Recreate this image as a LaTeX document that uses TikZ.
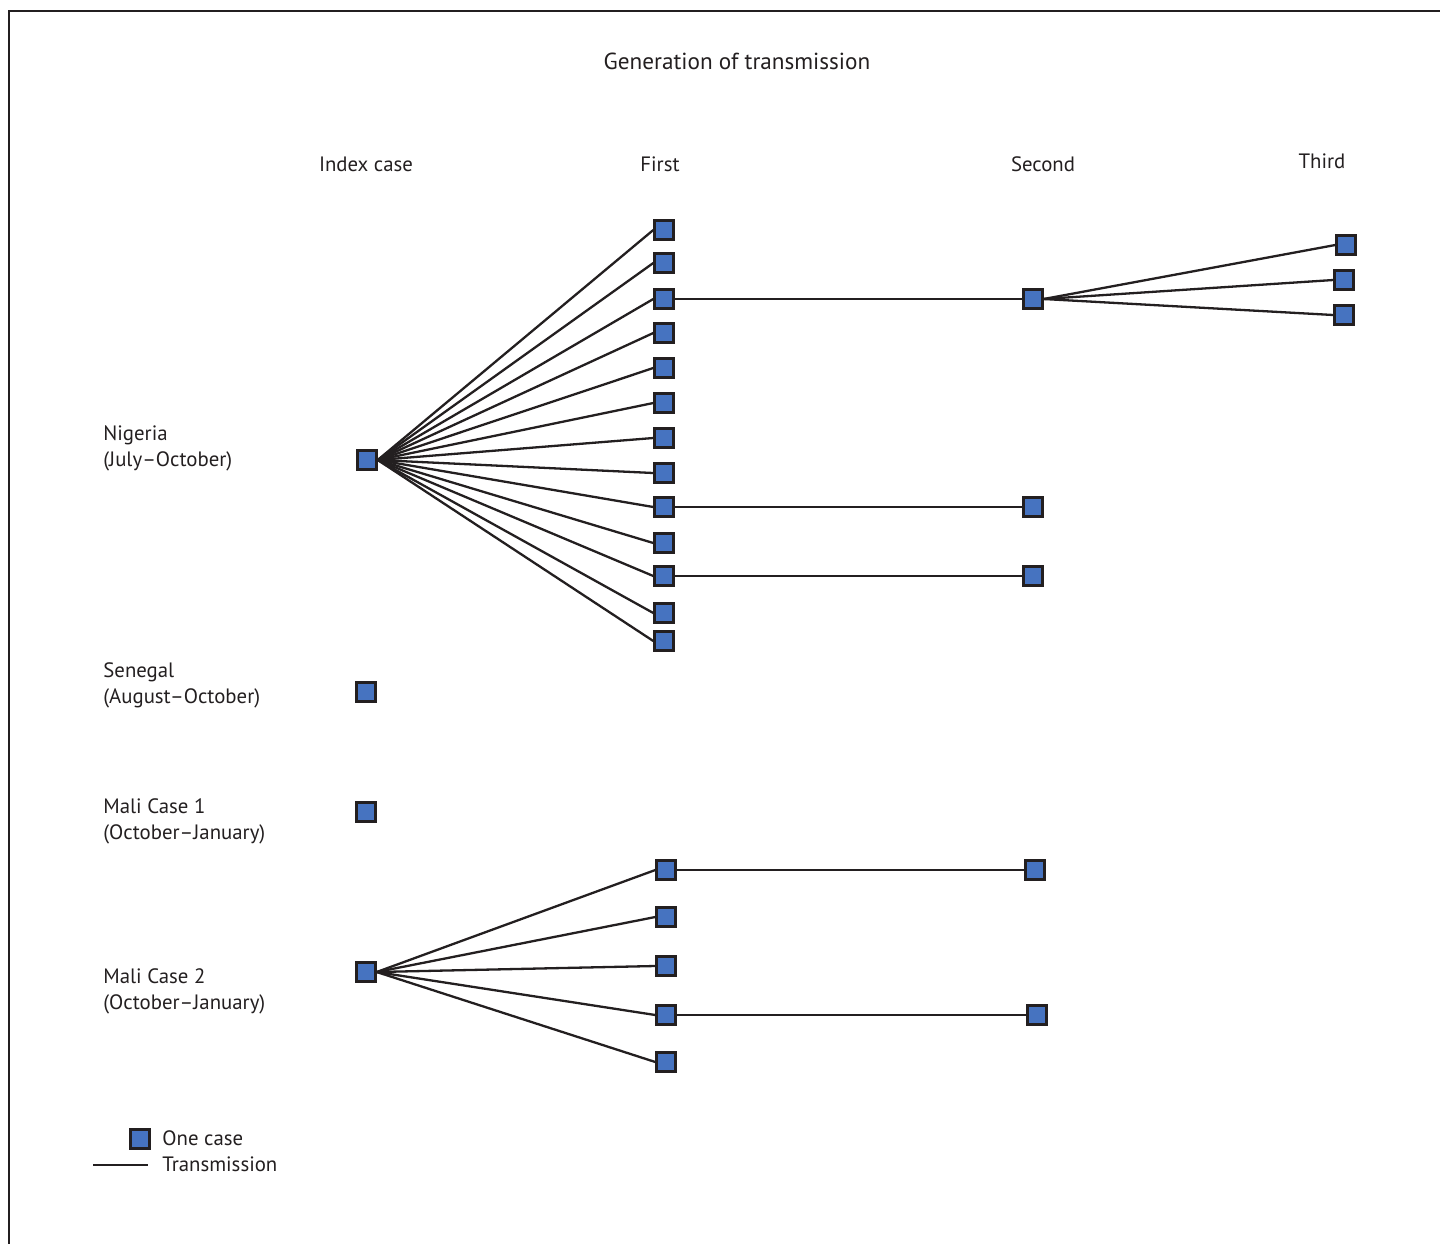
\documentclass[tikz,border=0pt]{standalone}
\usepackage{fontspec}
\setmainfont{PT Sans}
\definecolor{caseblue}{RGB}{70,115,192}
\definecolor{ink}{RGB}{35,31,32}
\begin{document}
\begin{tikzpicture}[x=0.5pt,y=-0.5pt,
  case/.style={draw=ink,fill=caseblue,line width=1.5pt,minimum size=9.2pt,inner sep=0pt,rectangle},
  tr/.style={draw=ink,line width=1.15pt},
  lbl/.style={font=\fontsize{10.4}{13}\selectfont,text=ink,inner sep=0pt},
  hdr/.style={lbl,anchor=base}]
\useasboundingbox (0,0) rectangle (1440,1243);
\clip (0,0) rectangle (1440,1243);
\draw[ink,line width=1.2pt] (9,11) rectangle (1460,1270);
% titles
\node[hdr,font=\fontsize{11.6}{14}\selectfont] (title) at (737,69) {Generation of transmission};
\node[hdr] (hidx) at (366,171) {Index case};
\node[hdr] (hfirst) at (660,171) {First};
\node[hdr] (hsecond) at (1043,171) {Second};
\node[hdr] (hthird) at (1322,168) {Third};
% row labels
\node[lbl,anchor=north west,align=left] (lnig) at (103,425) {Nigeria\\(July–October)};
\node[lbl,anchor=north west,align=left] (lsen) at (103,662) {Senegal\\(August–October)};
\node[lbl,anchor=north west,align=left] (lm1) at (103,798) {Mali Case 1\\(October–January)};
\node[lbl,anchor=north west,align=left] (lm2) at (103,968) {Mali Case 2\\(October–January)};
% Nigeria
\node[case] (n0) at (367,460) {};
\foreach \i/\y in {1/230,2/263,3/299,4/333,5/368,6/403,7/438,8/473,9/507,10/543,11/576,12/613,13/641}{
  \node[case] (n\i) at (664,\y) {};
  \draw[tr] (n0.east) -- (n\i.west);
}
\node[case] (ns1) at (1033,299) {};
\node[case] (ns2) at (1033,507) {};
\node[case] (ns3) at (1033,576) {};
\draw[tr] (n3) -- (ns1);
\draw[tr] (n9) -- (ns2);
\draw[tr] (n11) -- (ns3);
\node[case] (nt1) at (1346,245) {};
\node[case] (nt2) at (1344,280) {};
\node[case] (nt3) at (1344,315) {};
\foreach \t in {nt1,nt2,nt3}{\draw[tr] (ns1.east) -- (\t.west);}
% Senegal, Mali 1
\node[case] (sen) at (366,692) {};
\node[case] (m1) at (366,812) {};
% Mali 2
\node[case] (m2) at (366,972) {};
\foreach \i/\y in {1/870,2/917,3/966,4/1015,5/1062}{
  \node[case] (mf\i) at (666,\y) {};
  \draw[tr] (m2.east) -- (mf\i.west);
}
\node[case] (ms1) at (1035,870) {};
\node[case] (ms2) at (1037,1015) {};
\draw[tr] (mf1) -- (ms1);
\draw[tr] (mf4) -- (ms2);
% legend
\node[case] (legcase) at (140,1139) {};
\coordinate (legA) at (93,1165);
\coordinate (legB) at (148,1165);
\draw[tr] (legA) -- (legB);
\node[lbl,anchor=base west] (legt1) at (162,1145) {One case};
\node[lbl,anchor=base west] (legt2) at (162,1171) {Transmission};
\end{tikzpicture}
\end{document}
